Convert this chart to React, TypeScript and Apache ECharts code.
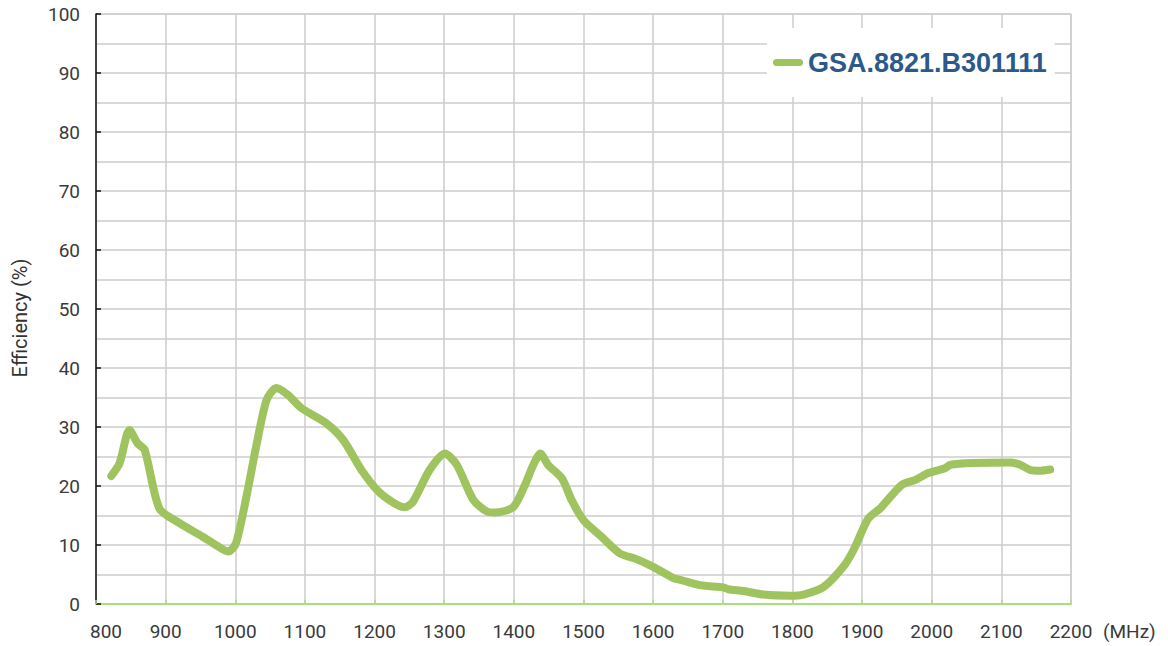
import React, { useEffect, useRef } from "react";
import * as echarts from "echarts";

const freqMHz = [
  822, 834, 848, 860, 870, 891, 920, 953, 968, 990, 1001, 1016, 1030, 1045, 1059, 1076, 1095,
  1131, 1155, 1183, 1208, 1243, 1255, 1279, 1301, 1318, 1342, 1361, 1373, 1399, 1416, 1428,
  1438, 1449, 1469, 1483, 1500, 1526, 1552, 1576, 1600, 1629, 1639, 1667, 1701, 1708, 1730,
  1758, 1797, 1816, 1845, 1873, 1888, 1909, 1926, 1957, 1976, 1995, 2019, 2027, 2060, 2113,
  2127, 2142, 2156, 2170,
];
const efficiency = [
  21.7, 23.9, 29.5, 27.2, 26.1, 16.2, 13.7, 11.4, 10.3, 8.9, 10.3, 18.2, 26.7, 34.6, 36.6, 35.4,
  33.2, 30.6, 27.8, 22.4, 18.8, 16.4, 17.3, 22.7, 25.5, 23.6, 17.6, 15.7, 15.5, 16.4, 20.2, 23.6,
  25.5, 23.6, 21.3, 17.6, 14.2, 11.4, 8.6, 7.6, 6.3, 4.4, 4.1, 3.2, 2.8, 2.5, 2.2, 1.6, 1.4, 1.6,
  2.9, 6.3, 9.2, 14.5, 16.2, 20.2, 21.0, 22.2, 23.0, 23.6, 23.9, 24.0, 23.6, 22.7, 22.6, 22.8,
];
const seriesName = "GSA.8821.B301111";
const xTicks = { min: 800, max: 2200, step: 100 };
const yTicks = { min: 0, max: 100, step: 10 };

export default function App() {
  const ref = useRef<HTMLDivElement>(null);
  useEffect(() => {
    document.body.style.margin = "0";
    const chart = echarts.init(ref.current!, null, { renderer: "svg" });
    const labelFont = "Roboto, 'Noto Sans', sans-serif";
    chart.setOption({
      animation: false,
      backgroundColor: "#fff",
      grid: {
        left: 96,
        right: 97,
        top: 14,
        bottom: 42,
        containLabel: false,
        outerBoundsMode: "none",
        show: true,
        borderColor: "#c4c4c4",
        borderWidth: 1,
      },
      legend: {
        left: 767,
        top: 28,
        backgroundColor: "#fff",
        padding: [21, 8, 21, 6],
        itemWidth: 30,
        itemHeight: 7,
        icon: "path://M3.5,0 L26.5,0 A3.5,3.5 0 0 1 26.5,7 L3.5,7 A3.5,3.5 0 0 1 3.5,0 Z",
        textStyle: {
          fontFamily: "'Liberation Sans', Arial, sans-serif",
          fontWeight: "bold",
          fontSize: 27,
          color: "#2b5a8a",
        },
        data: [{ name: seriesName, itemStyle: { color: "#9fc35f" } }],
      },
      xAxis: {
        type: "value",
        min: xTicks.min,
        max: xTicks.max,
        interval: xTicks.step,
        name: "(MHz)",
        nameLocation: "end",
        nameGap: 32,
        nameTextStyle: {
          fontFamily: labelFont,
          fontSize: 19,
          color: "#3a3a3a",
          verticalAlign: "top",
          padding: [18, 0, 0, 0],
        },
        axisLine: { show: true, lineStyle: { color: "#a9e07f", width: 2 } },
        axisTick: { show: true, inside: true, length: 4, lineStyle: { color: "#a9e07f", width: 1.5 } },
        axisLabel: {
          margin: 18,
          fontFamily: labelFont,
          fontSize: 19,
          color: "#3a3a3a",
          formatter: (v: number) => (v === xTicks.min ? "{a|" + v + "}" : String(v)),
          rich: { a: { padding: [0, 0, 0, 20], fontFamily: labelFont, fontSize: 19, color: "#3a3a3a" } },
        },
        splitLine: { show: true, lineStyle: { color: "#cdcdcd", width: 1.5 } },
      },
      yAxis: {
        type: "value",
        min: yTicks.min,
        max: yTicks.max,
        interval: yTicks.step,
        name: "Efficiency (%)",
        nameLocation: "middle",
        nameGap: 66,
        nameTextStyle: { fontFamily: labelFont, fontSize: 20, color: "#333", padding: [0, 18, 0, 0] },
        axisLine: { show: true, lineStyle: { color: "#111", width: 1.5 } },
        axisTick: { show: true, inside: true, length: 5, lineStyle: { color: "#111", width: 1.5 } },
        axisLabel: { margin: 16, fontFamily: labelFont, fontSize: 19, color: "#3a3a3a" },
        splitLine: { show: true, lineStyle: { color: "#cdcdcd", width: 1.5 } },
        minorTick: { show: false, splitNumber: 2 },
        minorSplitLine: { show: true, lineStyle: { color: "#cdcdcd", width: 1.5 } },
      },
      series: [
        {
          name: seriesName,
          type: "line",
          data: freqMHz.map((f, i) => [f, efficiency[i]]),
          smooth: 0.25,
          showSymbol: false,
          symbol: "none",
          lineStyle: { color: "#9fc35f", width: 8, cap: "round", join: "round" },
          itemStyle: { color: "#9fc35f" },
          z: 3,
        },
      ],
    });
    return () => chart.dispose();
  }, []);
  return <div ref={ref} style={{ width: 1168, height: 646 }} />;
}
